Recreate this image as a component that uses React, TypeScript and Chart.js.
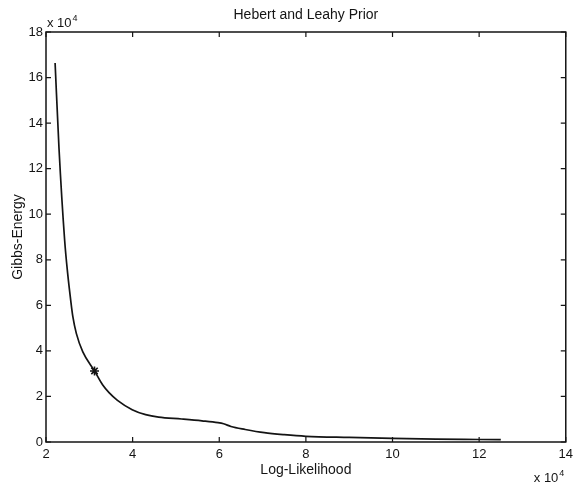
import React, { useEffect, useRef } from "react";
import { Chart, registerables } from "chart.js";

Chart.register(...registerables);

const chartTitle = "Hebert and Leahy Prior";
const xAxisLabel = "Log-Likelihood";
const yAxisLabel = "Gibbs-Energy";

// Log-Likelihood (x) and Gibbs-Energy (y), real units
const logLikelihood = [
  22100, 23000, 24300, 25000, 25700, 26200, 27000, 28500, 31200, 33100, 34500,
  36500, 39900, 43000, 46000, 51300, 56000, 59700, 61000, 62700, 66000, 70400,
  75000, 80000, 90000, 100000, 110000, 120000, 125000,
];
const gibbsEnergy = [
  166400, 129000, 88700, 74000, 62300, 55000, 47700, 39600, 31200, 25000, 21800,
  18300, 14200, 12000, 10900, 10100, 9300, 8500, 8000, 6800, 5500, 4100,
  3200, 2500, 2000, 1600, 1300, 1100, 1000,
];

const markerX = [31200];
const markerY = [31200];

const xTicks = [2, 4, 6, 8, 10, 12, 14];
const yTicks = [0, 2, 4, 6, 8, 10, 12, 14, 16, 18];
const scaleFactor = 10000;

const FONT = "'Liberation Sans', Arial, Helvetica, sans-serif";
const INK = "#141414";

const framePlugin = {
  id: "matlabFrame",
  afterDraw(chart: any) {
    const { ctx, chartArea } = chart;
    const xs = chart.scales.x;
    const ys = chart.scales.y;
    const { left, right, top, bottom } = chartArea;
    ctx.save();
    ctx.strokeStyle = INK;
    ctx.lineWidth = 1.5;
    ctx.strokeRect(left, top, right - left, bottom - top);
    const tl = 5;
    ctx.beginPath();
    xTicks.forEach((t) => {
      const px = xs.getPixelForValue(t * scaleFactor);
      ctx.moveTo(px, bottom);
      ctx.lineTo(px, bottom - tl);
      ctx.moveTo(px, top);
      ctx.lineTo(px, top + tl);
    });
    yTicks.forEach((t) => {
      const py = ys.getPixelForValue(t * scaleFactor);
      ctx.moveTo(left, py);
      ctx.lineTo(left + tl, py);
      ctx.moveTo(right, py);
      ctx.lineTo(right - tl, py);
    });
    ctx.lineWidth = 1.2;
    ctx.stroke();

    // exponent labels
    const drawExp = (x: number, y: number) => {
      ctx.fillStyle = INK;
      ctx.textBaseline = "alphabetic";
      ctx.textAlign = "left";
      ctx.font = `13px ${FONT}`;
      const base = "x 10";
      ctx.fillText(base, x, y);
      const w = ctx.measureText(base).width;
      ctx.font = `9px ${FONT}`;
      ctx.fillText("4", x + w + 1, y - 6);
    };
    drawExp(left + 1, top - 5);
    drawExp(right - 32, 482);
    ctx.restore();
  },
};

export default function App() {
  const canvasRef = useRef<HTMLCanvasElement | null>(null);

  useEffect(() => {
    const canvas = canvasRef.current;
    if (!canvas) return;
    const lineData = logLikelihood.map((x, i) => ({ x, y: gibbsEnergy[i] }));
    const markerData = markerX.map((x, i) => ({ x, y: markerY[i] }));
    const chart = new Chart(canvas, {
      type: "line",
      data: {
        datasets: [
          {
            data: lineData,
            borderColor: INK,
            borderWidth: 1.7,
            pointRadius: 0,
            cubicInterpolationMode: "monotone",
            fill: false,
          },
          {
            type: "scatter",
            data: markerData,
            pointStyle: "star",
            pointRadius: 4.5,
            borderColor: INK,
            backgroundColor: INK,
            pointBorderWidth: 1.6,
            showLine: false,
          } as any,
        ],
      },
      options: {
        animation: false,
        responsive: false,
        maintainAspectRatio: false,
        layout: { padding: { left: 0, right: 6, top: 0, bottom: 0 } },
        plugins: {
          legend: { display: false },
          tooltip: { enabled: false },
          title: {
            display: true,
            text: chartTitle,
            color: INK,
            fullSize: false,
            font: { family: FONT, size: 14, weight: "normal", lineHeight: 1.2 },
            padding: { top: 7, bottom: 8.2 },
          },
        },
        scales: {
          x: {
            type: "linear",
            min: 2 * scaleFactor,
            max: 14 * scaleFactor,
            afterBuildTicks: (scale: any) => {
              scale.ticks = xTicks.map((t) => ({ value: t * scaleFactor }));
            },
            afterFit: (scale: any) => {
              scale.height = 43;
            },
            grid: { display: false, drawTicks: false },
            border: { display: false },
            ticks: {
              color: INK,
              padding: 5,
              maxRotation: 0,
              font: { family: FONT, size: 13 },
              callback: (v: any) => String(Number(v) / scaleFactor),
            },
            title: {
              display: true,
              text: xAxisLabel,
              color: INK,
              font: { family: FONT, size: 14, lineHeight: 1.2 },
              padding: { top: 0, bottom: 6 },
            },
          },
          y: {
            type: "linear",
            min: 0,
            max: 18 * scaleFactor,
            afterBuildTicks: (scale: any) => {
              scale.ticks = yTicks.map((t) => ({ value: t * scaleFactor }));
            },
            afterFit: (scale: any) => {
              scale.width = 46;
            },
            grid: { display: false, drawTicks: false },
            border: { display: false },
            ticks: {
              color: INK,
              padding: 3,
              font: { family: FONT, size: 13 },
              callback: (v: any) => String(Number(v) / scaleFactor),
            },
            title: {
              display: true,
              text: yAxisLabel,
              color: INK,
              font: { family: FONT, size: 14, lineHeight: 1.2 },
              padding: { top: 10, bottom: 0 },
            },
          },
        },
      },
      plugins: [framePlugin],
    });
    return () => chart.destroy();
  }, []);

  return (
    <div style={{ position: "absolute", left: 0, top: 0, width: 578, height: 485, background: "#fff" }}>
      <canvas ref={canvasRef} width={578} height={485} style={{ display: "block" }} />
    </div>
  );
}
